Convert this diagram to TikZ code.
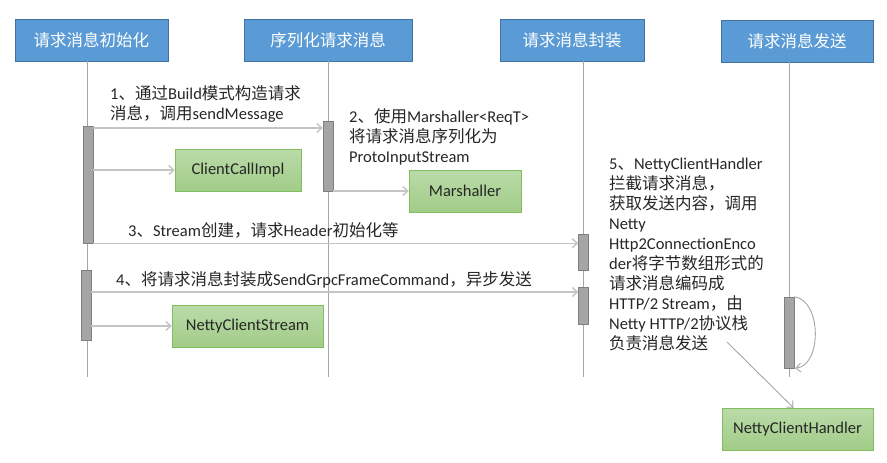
\documentclass[tikz,border=0pt]{standalone}
\usepackage{fontspec}
\setmainfont{Carlito}
\newfontfamily\cjk{Noto Sans CJK SC}
\usetikzlibrary{arrows.meta}

\newcommand{\zh}[1]{{\cjk #1}}

\definecolor{headblue}{HTML}{5B9BD5}
\definecolor{headline}{HTML}{41719C}
\definecolor{boxtop}{HTML}{BADBA9}
\definecolor{boxbot}{HTML}{A2CC88}
\definecolor{boxline}{HTML}{82BE5F}
\definecolor{barfill}{HTML}{A5A5A5}
\definecolor{barline}{HTML}{7F7F7F}
\definecolor{msgline}{HTML}{C4C4C4}
\definecolor{lifegray}{HTML}{A6A6A6}
\definecolor{txt}{HTML}{262626}

\tikzset{
    header/.style={draw=headline, fill=headblue, text=white, minimum height=42, inner sep=0,
        font=\fontsize{16.5}{20}\selectfont\cjk},
    classbox/.style={draw=boxline, top color=boxtop, bottom color=boxbot, text=txt,
        minimum height=42, inner sep=0, font=\fontsize{16.5}{20}\selectfont},
    actbar/.style={draw=barline, fill=barfill, minimum width=10, inner sep=0},
    lifeline/.style={draw=lifegray, line width=0.8pt},
    msg/.style={draw=msgline, line width=1.4pt, -{Straight Barb[length=5pt,width=9pt]}},
    pointer/.style={draw=lifegray, line width=0.9pt, -{Straight Barb[length=5pt,width=9pt]}},
    note/.style={anchor=base west, align=left, inner sep=0, text=txt,
        font=\fontsize{16.5}{20}\selectfont},
}

\begin{document}
\begin{tikzpicture}[x=1pt, y=-1pt]
    \useasboundingbox (0,0) rectangle (887,463);

    % lanes
    \node[header, minimum width=153] (h1) at (91.5,40) {请求消息初始化};
    \node[header, minimum width=168] (h2) at (328,40) {序列化请求消息};
    \node[header, minimum width=144] (h3) at (572,40) {请求消息封装};
    \node[header, minimum width=152] (h4) at (797,41) {请求消息发送};

    \coordinate (e1) at (87,377);
    \coordinate (e2) at (328,377);
    \coordinate (e3) at (583.5,377);
    \coordinate (e4) at (789,377);
    \draw[lifeline] (h1.south -| e1) -- (e1);
    \draw[lifeline] (h2.south -| e2) -- (e2);
    \draw[lifeline] (h3.south -| e3) -- (e3);
    \draw[lifeline] (h4.south -| e4) -- (e4);

    % activations
    \node[actbar, minimum height=117] (a1) at (88,184.5) {};
    \node[actbar, minimum height=70] (a2) at (86,305) {};
    \node[actbar, minimum height=70] (b1) at (328,156) {};
    \node[actbar, minimum height=36] (c1) at (583.5,252) {};
    \node[actbar, minimum height=37] (c2) at (583.5,305.5) {};
    \node[actbar, minimum height=71] (d1) at (789,332.5) {};

    % classes
    \node[classbox, minimum width=126] (cci) at (238,170) {ClientCallImpl};
    \node[classbox, minimum width=112] (mar) at (465,191) {Marshaller};
    \node[classbox, minimum width=151] (ncs) at (247.5,326) {NettyClientStream};
    \node[classbox, minimum width=151] (nch) at (797.5,429) {NettyClientHandler};

    % messages
    \draw[msg] (a1.east |- 0,128) -- (b1.west |- 0,128);
    \draw[msg] (a1.east |- cci) -- (cci.west);
    \draw[msg] (b1.east |- mar) -- (mar.west);
    \draw[msg] (a1.south east) -- (c1.west |- a1.south east);
    \draw[msg] (a2.east |- 0,292) -- (c2.west |- 0,292);
    \draw[msg] (a2.east |- ncs) -- (ncs.west);
    \draw[pointer] (d1.north east) .. controls (822,300) and (822,366) .. ([xshift=1]d1.south east);
    \coordinate (t5) at (727,342);
    \draw[pointer] (t5) -- ([xshift=-4]nch.north);

    % labels (base = last line)
    \node[note] (l1) at (110,119) {1\zh{、通过}Build\zh{模式构造请求}\\\zh{消息，调用}sendMessage};
    \node[note] (l2) at (349,162) {2\zh{、使用}Marshaller<ReqT>\\\zh{将请求消息序列化为}\\ProtoInputStream};
    \node[note] (l3) at (128,236) {3\zh{、}Stream\zh{创建，请求}Header\zh{初始化等}};
    \node[note] (l4) at (116,285) {4\zh{、将请求消息封装成}SendGrpcFrameCommand\zh{，异步发送}};
    \node[note] (l5) at (609,349) {5\zh{、}NettyClientHandler\\\zh{拦截请求消息，}\\\zh{获取发送内容，调用}\\Netty\\Http2ConnectionEnco\\der\zh{将字节数组形式的}\\\zh{请求消息编码成}\\HTTP/2 Stream\zh{，由}\\Netty HTTP/2\zh{协议栈}\\\zh{负责消息发送}};
\end{tikzpicture}
\end{document}
